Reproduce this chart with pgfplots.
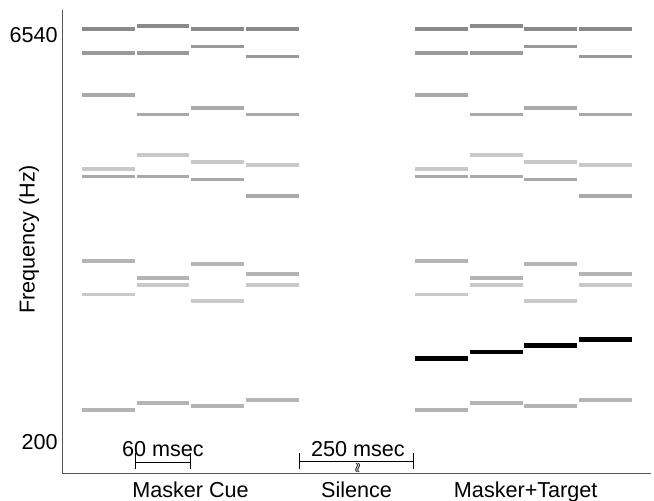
\documentclass[border=0pt]{standalone}
\usepackage{fontspec}
\setmainfont{Liberation Sans}
\usepackage{pgfplots}
\pgfplotsset{compat=1.18}
\definecolor{cA}{HTML}{8A8A8A}
\definecolor{cB}{HTML}{9A9A9A}
\definecolor{cC}{HTML}{A9A9A9}
\definecolor{cD}{HTML}{C9C9C9}
\definecolor{cE}{HTML}{B4B4B4}
\definecolor{axc}{HTML}{555555}
\newcommand{\seg}[4]{\addplot[#4, line width=1.8pt, forget plot] coordinates {(#1,#3) (#2,#3)};}
\newcommand{\tseg}[3]{\addplot[black, line width=2.15pt, forget plot] coordinates {(#1,#3) (#2,#3)};}
\begin{document}
\begin{tikzpicture}[font=\fontsize{10.8}{13}\selectfont]
\useasboundingbox (-31.15pt,-13.35pt) rectangle (295.85pt,236.65pt);
\begin{axis}[
  scale only axis, width=294.35pt, height=231.65pt,
  ymode=log, xmin=-21.6, xmax=625, ymin=152.5, ymax=8105,
  enlargelimits=false, clip=false,
  axis x line=bottom, axis y line=left,
  axis line style={-, axc, line width=0.65pt},
  xtick=\empty, ytick={200,6540}, yticklabels={200,6540},
  major tick length=0pt,
  /pgf/number format/assume math mode=true,
  yticklabel style={inner sep=0pt, xshift=-2.15pt, font=\fontsize{10.8}{13}\selectfont},
]
% ---- Masker Cue ----
\seg{0}{58}{6870}{cA}
\seg{0}{58}{5594}{cB}
\seg{0}{58}{3902}{cC}
\seg{0}{58}{2078}{cD}
\seg{0}{58}{1941}{cC}
\seg{0}{58}{940}{cE}
\seg{0}{58}{706}{cD}
\seg{0}{58}{263}{cE}
\seg{60}{118}{7068}{cA}
\seg{60}{118}{5594}{cB}
\seg{60}{118}{3304}{cC}
\seg{60}{118}{2332}{cD}
\seg{60}{118}{1941}{cC}
\seg{60}{118}{816}{cE}
\seg{60}{118}{765}{cD}
\seg{60}{118}{279}{cE}
\seg{120}{178}{6870}{cA}
\seg{120}{178}{5918}{cB}
\seg{120}{178}{3498}{cC}
\seg{120}{178}{2202}{cD}
\seg{120}{178}{1892}{cC}
\seg{120}{178}{916}{cE}
\seg{120}{178}{667}{cD}
\seg{120}{178}{271}{cE}
\seg{180}{238}{6870}{cA}
\seg{180}{238}{5433}{cB}
\seg{180}{238}{3304}{cC}
\seg{180}{238}{2140}{cD}
\seg{180}{238}{1646}{cC}
\seg{180}{238}{843}{cE}
\seg{180}{238}{765}{cD}
\seg{180}{238}{286}{cE}
% ---- Masker+Target ----
\seg{366}{424}{6870}{cA}
\seg{366}{424}{5594}{cB}
\seg{366}{424}{3902}{cC}
\seg{366}{424}{2078}{cD}
\seg{366}{424}{1941}{cC}
\seg{366}{424}{940}{cE}
\seg{366}{424}{706}{cD}
\seg{366}{424}{263}{cE}
\seg{426}{484}{7068}{cA}
\seg{426}{484}{5594}{cB}
\seg{426}{484}{3304}{cC}
\seg{426}{484}{2332}{cD}
\seg{426}{484}{1941}{cC}
\seg{426}{484}{816}{cE}
\seg{426}{484}{765}{cD}
\seg{426}{484}{279}{cE}
\seg{486}{544}{6870}{cA}
\seg{486}{544}{5918}{cB}
\seg{486}{544}{3498}{cC}
\seg{486}{544}{2202}{cD}
\seg{486}{544}{1892}{cC}
\seg{486}{544}{916}{cE}
\seg{486}{544}{667}{cD}
\seg{486}{544}{271}{cE}
\seg{546}{604}{6870}{cA}
\seg{546}{604}{5433}{cB}
\seg{546}{604}{3304}{cC}
\seg{546}{604}{2140}{cD}
\seg{546}{604}{1646}{cC}
\seg{546}{604}{843}{cE}
\seg{546}{604}{765}{cD}
\seg{546}{604}{286}{cE}
\tseg{366}{424}{408}
\tseg{426}{484}{432}
\tseg{486}{544}{456}
\tseg{546}{604}{480}
% ---- scale bars ----
\draw[black, line width=0.6pt] ([yshift=5.2pt]axis cs:59,152.5) -- ([yshift=5.2pt]axis cs:119,152.5);
\draw[black, line width=0.6pt] ([yshift=1.9pt]axis cs:59,152.5) -- ([yshift=10.3pt]axis cs:59,152.5);
\draw[black, line width=0.6pt] ([yshift=1.9pt]axis cs:119,152.5) -- ([yshift=10.3pt]axis cs:119,152.5);
\node[anchor=base, inner sep=0pt] at ([yshift=8.5pt]axis cs:89,152.5) {60 msec};
\draw[black, line width=0.6pt] ([yshift=5.8pt]axis cs:238.8,152.5) -- ([yshift=5.8pt]axis cs:364.5,152.5);
\draw[black, line width=0.6pt] ([yshift=1.9pt]axis cs:238.8,152.5) -- ([yshift=10.3pt]axis cs:238.8,152.5);
\draw[black, line width=0.6pt] ([yshift=1.9pt]axis cs:364.5,152.5) -- ([yshift=10.3pt]axis cs:364.5,152.5);
\node[anchor=north, inner sep=0pt, font=\fontsize{7.5}{7.5}\selectfont] at ([yshift=6.2pt]axis cs:303,152.5) {$\wr\!\wr$};
\node[anchor=base, inner sep=0pt] at ([yshift=8.5pt]axis cs:303,152.5) {250 msec};
% ---- category labels ----
\node[anchor=base, inner sep=0pt] at ([yshift=-12.35pt]axis cs:119.2,152.5) {Masker Cue};
\node[anchor=base, inner sep=0pt] at ([yshift=-12.35pt]axis cs:301.6,152.5) {Silence};
\node[anchor=base, inner sep=0pt] at ([yshift=-12.35pt]axis cs:487.4,152.5) {Masker+Target};
\node[rotate=90, anchor=center, inner sep=0pt] at ([xshift=-16.65pt]rel axis cs:0,0.505) {Frequency (Hz)};
\end{axis}
\end{tikzpicture}
\end{document}
